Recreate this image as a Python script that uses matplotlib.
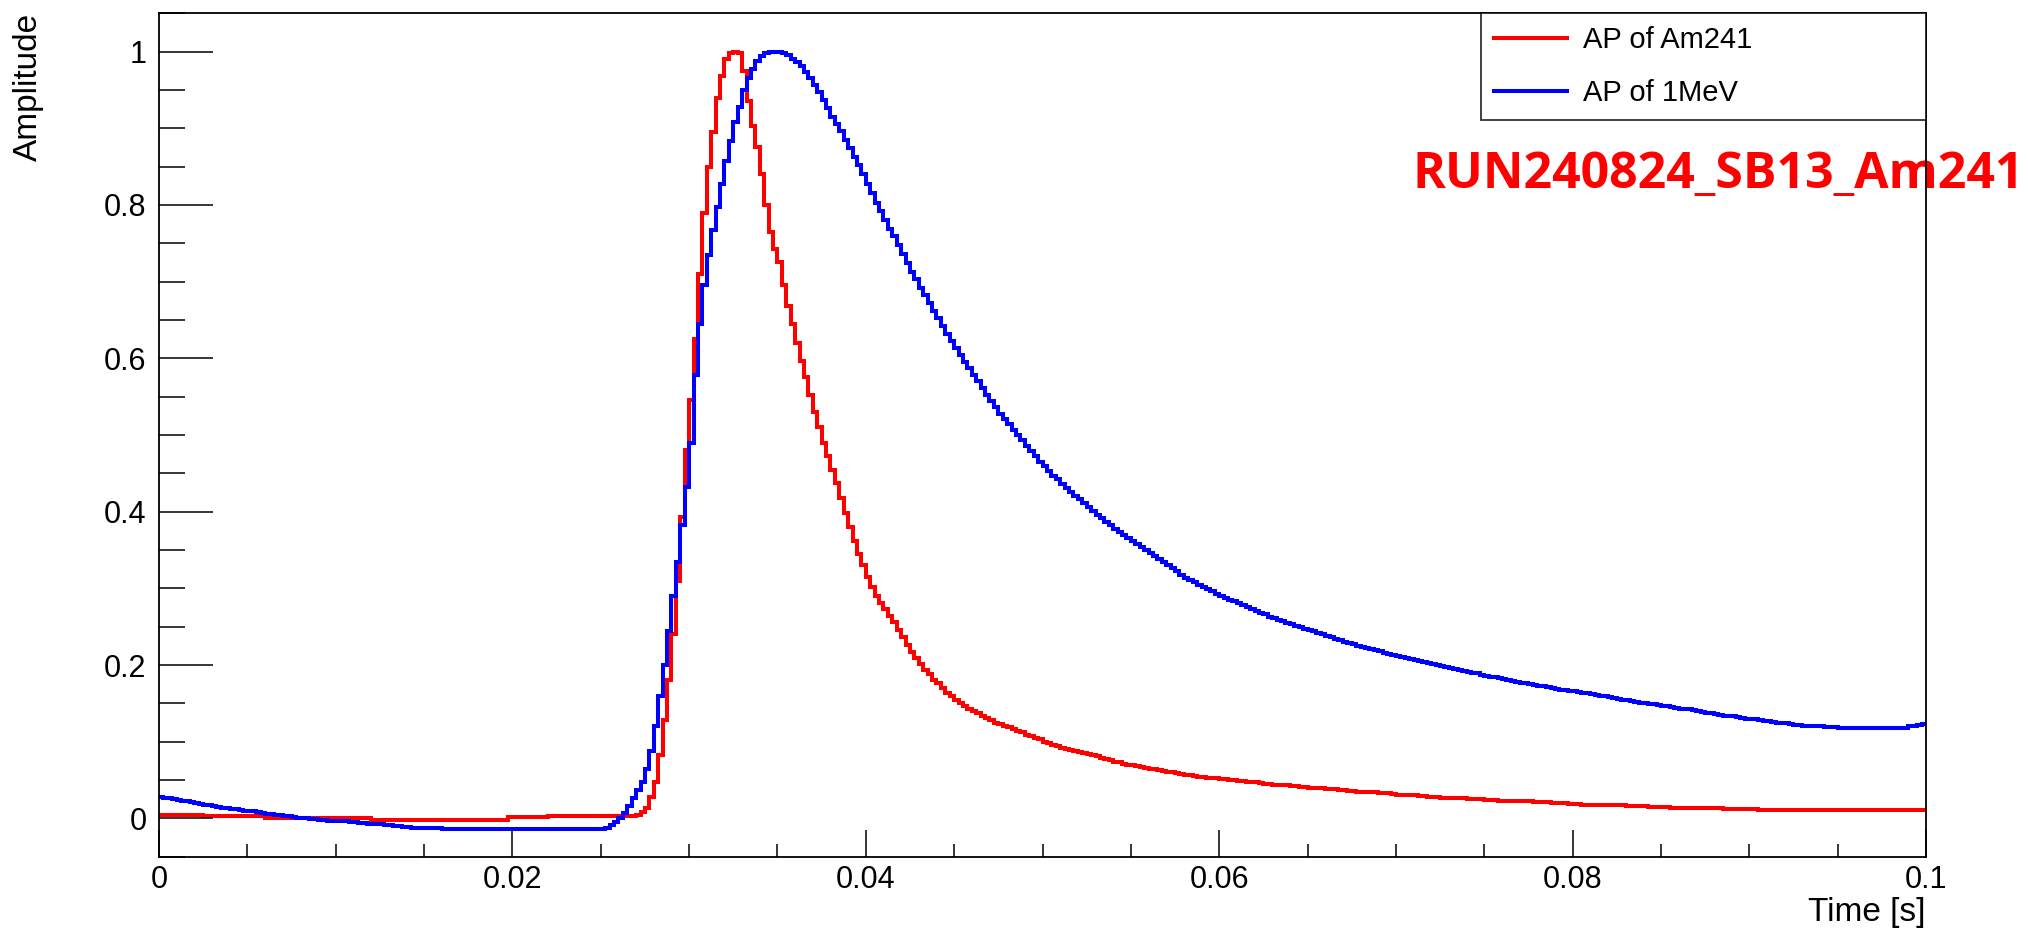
import numpy as np
import matplotlib
matplotlib.use("Agg")
import matplotlib.pyplot as plt
from matplotlib.ticker import FixedLocator, MultipleLocator

# ---------------- data ----------------
t_min, t_max, n_bins = 0.0, 0.1, 400

am241 = [
    0.005, 0.005, 0.005, 0.005, 0.005, 0.005, 0.005, 0.005, 0.005, 0.005, 0.003, 0.003, 0.003, 0.003, 0.003, 0.003, 0.003, 0.003, 0.003, 0.003,
    0.003, 0.003, 0.003, 0.003, 0.001, 0.001, 0.001, 0.001, 0.001, 0.001, 0.001, 0.001, 0.001, 0.001, 0.001, 0.001, 0.001, 0.001, 0.001, 0.001,
    0.001, 0.001, 0.001, 0.001, 0.001, 0.001, 0.001, 0.001, -0.002, -0.002, -0.002, -0.002, -0.002, -0.002, -0.002, -0.002, -0.002, -0.002, -0.002, -0.002,
    -0.002, -0.002, -0.002, -0.002, -0.002, -0.002, -0.002, -0.002, -0.002, -0.002, -0.002, -0.002, -0.002, -0.002, -0.002, -0.002, -0.002, -0.002, -0.002, 0.0015,
    0.0015, 0.0015, 0.0015, 0.0015, 0.0015, 0.0015, 0.0015, 0.0015, 0.003, 0.003, 0.003, 0.003, 0.003, 0.003, 0.003, 0.003, 0.003, 0.003, 0.003, 0.003,
    0.003, 0.003, 0.003, 0.003, 0.003, 0.003, 0.003, 0.003, 0.005, 0.008, 0.013, 0.028, 0.048, 0.082, 0.128, 0.180, 0.240, 0.310, 0.393, 0.480,
    0.545, 0.625, 0.710, 0.790, 0.850, 0.895, 0.940, 0.968, 0.990, 0.998, 1.000, 0.998, 0.975, 0.935, 0.903, 0.875, 0.840, 0.800, 0.765, 0.742,
    0.725, 0.695, 0.668, 0.645, 0.620, 0.597, 0.575, 0.552, 0.530, 0.510, 0.490, 0.472, 0.455, 0.437, 0.418, 0.398, 0.380, 0.362, 0.345, 0.330,
    0.315, 0.302, 0.290, 0.281, 0.273, 0.264, 0.256, 0.246, 0.236, 0.226, 0.217, 0.209, 0.201, 0.194, 0.188, 0.181, 0.176, 0.170, 0.164, 0.159,
    0.155, 0.151, 0.147, 0.143, 0.140, 0.137, 0.134, 0.131, 0.128, 0.125, 0.123, 0.121, 0.119, 0.116, 0.114, 0.112, 0.109, 0.107, 0.105, 0.103,
    0.100, 0.098, 0.096, 0.094, 0.092, 0.091, 0.089, 0.088, 0.086, 0.085, 0.084, 0.083, 0.081, 0.079, 0.077, 0.076, 0.074, 0.073, 0.071, 0.070,
    0.069, 0.068, 0.067, 0.066, 0.065, 0.064, 0.063, 0.062, 0.061, 0.060, 0.059, 0.058, 0.057, 0.056, 0.055, 0.054, 0.054, 0.053, 0.052, 0.052,
    0.051, 0.051, 0.050, 0.050, 0.049, 0.049, 0.048, 0.048, 0.047, 0.046, 0.045, 0.045, 0.044, 0.044, 0.043, 0.043, 0.042, 0.042, 0.041, 0.041,
    0.040, 0.040, 0.039, 0.039, 0.038, 0.038, 0.038, 0.037, 0.037, 0.036, 0.036, 0.035, 0.035, 0.035, 0.034, 0.034, 0.033, 0.033, 0.033, 0.032,
    0.031, 0.031, 0.030, 0.030, 0.030, 0.029, 0.029, 0.028, 0.028, 0.028, 0.027, 0.027, 0.027, 0.026, 0.026, 0.026, 0.025, 0.025, 0.025, 0.025,
    0.024, 0.024, 0.024, 0.023, 0.023, 0.023, 0.023, 0.022, 0.022, 0.022, 0.022, 0.021, 0.021, 0.021, 0.021, 0.020, 0.020, 0.020, 0.020, 0.019,
    0.019, 0.019, 0.018, 0.018, 0.018, 0.018, 0.018, 0.017, 0.017, 0.017, 0.017, 0.017, 0.016, 0.016, 0.016, 0.016, 0.016, 0.015, 0.015, 0.015,
    0.015, 0.015, 0.014, 0.014, 0.014, 0.014, 0.014, 0.014, 0.013, 0.013, 0.013, 0.013, 0.013, 0.013, 0.012, 0.012, 0.012, 0.012, 0.012, 0.012,
    0.012, 0.012, 0.011, 0.011, 0.011, 0.011, 0.011, 0.011, 0.011, 0.011, 0.011, 0.011, 0.011, 0.011, 0.011, 0.011, 0.011, 0.011, 0.011, 0.011,
    0.011, 0.011, 0.011, 0.011, 0.011, 0.011, 0.011, 0.011, 0.011, 0.011, 0.011, 0.011, 0.011, 0.011, 0.011, 0.011, 0.011, 0.011, 0.011, 0.011,
]

mev1 = [
    0.028, 0.027, 0.026, 0.025, 0.024, 0.023, 0.022, 0.021, 0.020, 0.019, 0.018, 0.017, 0.016, 0.015, 0.014, 0.013, 0.012, 0.012, 0.011, 0.010,
    0.010, 0.009, 0.008, 0.007, 0.006, 0.006, 0.005, 0.004, 0.003, 0.003, 0.002, 0.001, 0.000, 0.000, -0.001, -0.001, -0.002, -0.002, -0.003, -0.003,
    -0.003, -0.004, -0.004, -0.005, -0.005, -0.006, -0.006, -0.007, -0.007, -0.008, -0.008, -0.009, -0.009, -0.010, -0.010, -0.011, -0.011, -0.012, -0.012, -0.012,
    -0.013, -0.013, -0.013, -0.013, -0.014, -0.014, -0.014, -0.014, -0.014, -0.014, -0.014, -0.014, -0.014, -0.014, -0.014, -0.014, -0.014, -0.014, -0.014, -0.014,
    -0.014, -0.014, -0.014, -0.014, -0.014, -0.014, -0.014, -0.014, -0.014, -0.014, -0.014, -0.014, -0.014, -0.014, -0.014, -0.014, -0.014, -0.014, -0.014, -0.014,
    -0.014, -0.012, -0.009, -0.005, 0.001, 0.007, 0.016, 0.026, 0.037, 0.048, 0.064, 0.088, 0.120, 0.160, 0.200, 0.245, 0.290, 0.335, 0.383, 0.432,
    0.490, 0.578, 0.645, 0.695, 0.735, 0.768, 0.798, 0.828, 0.858, 0.884, 0.908, 0.928, 0.950, 0.966, 0.978, 0.988, 0.994, 0.998, 1.000, 1.000,
    1.000, 0.998, 0.995, 0.991, 0.986, 0.981, 0.974, 0.965, 0.957, 0.947, 0.937, 0.926, 0.915, 0.906, 0.896, 0.885, 0.874, 0.863, 0.852, 0.840,
    0.828, 0.816, 0.803, 0.792, 0.781, 0.769, 0.759, 0.748, 0.736, 0.724, 0.713, 0.703, 0.692, 0.682, 0.672, 0.662, 0.652, 0.642, 0.632, 0.622,
    0.613, 0.604, 0.595, 0.587, 0.578, 0.570, 0.561, 0.552, 0.544, 0.536, 0.528, 0.521, 0.514, 0.507, 0.500, 0.493, 0.486, 0.479, 0.472, 0.465,
    0.459, 0.453, 0.447, 0.442, 0.436, 0.431, 0.426, 0.421, 0.416, 0.411, 0.406, 0.401, 0.396, 0.392, 0.387, 0.383, 0.378, 0.374, 0.370, 0.366,
    0.362, 0.358, 0.354, 0.350, 0.346, 0.342, 0.338, 0.334, 0.330, 0.326, 0.322, 0.318, 0.314, 0.311, 0.308, 0.305, 0.302, 0.299, 0.296, 0.293,
    0.290, 0.288, 0.285, 0.283, 0.281, 0.278, 0.276, 0.273, 0.271, 0.268, 0.266, 0.263, 0.261, 0.259, 0.257, 0.255, 0.253, 0.251, 0.249, 0.247,
    0.246, 0.244, 0.242, 0.240, 0.238, 0.236, 0.234, 0.232, 0.230, 0.229, 0.227, 0.225, 0.224, 0.222, 0.221, 0.219, 0.218, 0.216, 0.215, 0.213,
    0.212, 0.211, 0.209, 0.208, 0.207, 0.205, 0.204, 0.203, 0.201, 0.200, 0.199, 0.197, 0.196, 0.195, 0.194, 0.192, 0.191, 0.190, 0.189, 0.187,
    0.186, 0.185, 0.184, 0.183, 0.182, 0.181, 0.179, 0.178, 0.177, 0.176, 0.175, 0.174, 0.173, 0.172, 0.171, 0.170, 0.169, 0.168, 0.167, 0.166,
    0.166, 0.165, 0.164, 0.163, 0.162, 0.161, 0.160, 0.159, 0.158, 0.157, 0.156, 0.155, 0.154, 0.153, 0.152, 0.151, 0.150, 0.149, 0.149, 0.148,
    0.147, 0.146, 0.145, 0.144, 0.143, 0.143, 0.142, 0.141, 0.140, 0.139, 0.138, 0.137, 0.136, 0.135, 0.134, 0.134, 0.133, 0.132, 0.131, 0.130,
    0.130, 0.129, 0.128, 0.127, 0.127, 0.126, 0.125, 0.124, 0.124, 0.123, 0.122, 0.122, 0.121, 0.121, 0.120, 0.120, 0.120, 0.119, 0.119, 0.119,
    0.118, 0.118, 0.118, 0.118, 0.118, 0.118, 0.118, 0.118, 0.118, 0.118, 0.118, 0.118, 0.118, 0.118, 0.118, 0.118, 0.120, 0.121, 0.122, 0.123,
]

series_labels = ["AP of Am241", "AP of 1MeV"]
x_ticks = [0, 0.02, 0.04, 0.06, 0.08, 0.1]
x_tick_labels = ["0", "0.02", "0.04", "0.06", "0.08", "0.1"]
y_ticks = [0, 0.2, 0.4, 0.6, 0.8, 1.0]
y_tick_labels = ["0", "0.2", "0.4", "0.6", "0.8", "1"]
run_tag = "RUN240824_SB13_Am241"

# ---------------- figure ----------------
W, H, DPI = 2028, 931, 100
fig = plt.figure(figsize=(W / DPI, H / DPI), dpi=DPI)
plt.rcParams["font.family"] = ["Liberation Sans", "DejaVu Sans"]

L, R, T, B = 159, 1926, 13.3, 856.7
ax = fig.add_axes([L / W, 1 - B / H, (R - L) / W, (B - T) / H])

edges = np.linspace(t_min, t_max, n_bins + 1)
ax.stairs(am241, edges, color="#ff0000", linewidth=2.9, label=series_labels[0], baseline=None)
ax.stairs(mev1, edges, color="#0000ff", linewidth=2.9, label=series_labels[1], baseline=None)

ax.set_xlim(t_min, t_max)
ax.set_ylim(-0.05, 1.05)

for s in ax.spines.values():
    s.set_linewidth(1.3)
    s.set_color("black")

ax.xaxis.set_major_locator(FixedLocator(x_ticks))
ax.set_xticklabels(x_tick_labels)
ax.xaxis.set_minor_locator(MultipleLocator(0.005))
ax.yaxis.set_major_locator(FixedLocator(y_ticks))
ax.set_yticklabels(y_tick_labels)
ax.yaxis.set_minor_locator(MultipleLocator(0.05))

ax.tick_params(axis="x", which="major", direction="in", length=19.5, width=1.1, labelsize=22, pad=6)
ax.tick_params(axis="x", which="minor", direction="in", length=9.5, width=1.1)
ax.tick_params(axis="y", which="major", direction="in", length=39, width=1.1, labelsize=22, pad=9)
ax.tick_params(axis="y", which="minor", direction="in", length=19, width=1.1)

ax.set_ylabel("Amplitude", fontsize=24, loc="top")
ax.yaxis.set_label_coords(-(L - 44) / (R - L), 1.0)
ax.set_xlabel("Time [s]", fontsize=24, loc="right")
ax.xaxis.set_label_coords(1.0, -(897 - B) / (B - T))

leg = ax.legend(loc="upper right", bbox_to_anchor=((1481 - L) / (R - L), 0, (R - 1481) / (R - L), 1.0),
                mode="expand", borderaxespad=0, fancybox=False, frameon=True,
                fontsize=21, handlelength=2.5, handletextpad=0.55, borderpad=0.45,
                labelspacing=0.85)
leg.get_frame().set_edgecolor("black")
leg.get_frame().set_linewidth(1.3)
for ln in leg.get_lines():
    ln.set_linewidth(2.9)

ax.text((W - 4) / W, 1 - 175 / H, run_tag, transform=fig.transFigure, ha="right", va="center",
        color="#ff0000", fontsize=36, fontweight="bold", family=["Open Sans", "DejaVu Sans"],
        clip_on=False, zorder=2)

fig.savefig("out.png", dpi=DPI)
